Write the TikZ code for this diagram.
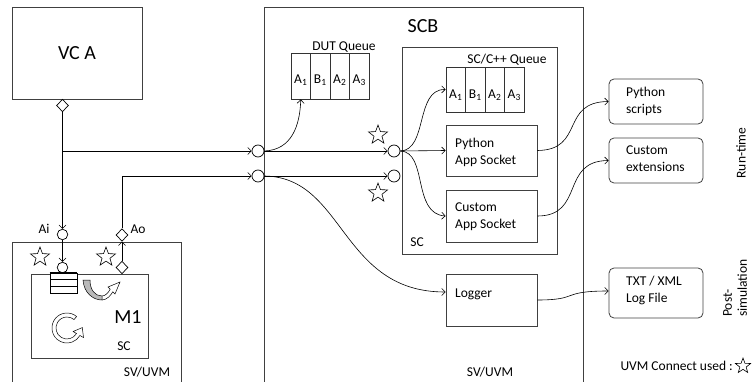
\documentclass[tikz,border=0pt]{standalone}
\usepackage{fontspec}
\setmainfont{Carlito}
\usetikzlibrary{arrows.meta,shapes.geometric}
\begin{document}
\begin{tikzpicture}[x=1pt,y=-1pt,
  box/.style={draw=black!75, line width=0.8pt, inner sep=0pt},
  rbox/.style={draw=black!75, line width=0.8pt, inner sep=0pt, rounded corners=5pt},
  txt/.style={font=\fontsize{13.5}{17}\selectfont, inner sep=0pt, align=left},
  big/.style={font=\fontsize{20}{24}\selectfont},
  port/.style={circle, draw, line width=0.7pt, minimum size=12pt, inner sep=0pt, fill=white},
  sport/.style={circle, draw, line width=0.7pt, minimum size=10.5pt, inner sep=0pt, fill=white},
  dport/.style={diamond, draw, line width=0.7pt, minimum width=12pt, minimum height=12.5pt, inner sep=0pt, fill=white},
  ustar/.style={star, star points=5, star point ratio=2.4, draw, line width=0.6pt, minimum size=20pt, inner sep=0pt},
  cell/.style={draw=black!80, line width=0.8pt, minimum width=19.5pt, inner sep=0pt, font=\fontsize{13.5}{16}\selectfont},
  arr/.style={-{Straight Barb[length=3.5pt,width=7pt]}, line width=0.6pt},
  ln/.style={line width=0.6pt}
]
\useasboundingbox (0,0) rectangle (752,382);
\clip (0,0) rectangle (752,382);

% ---------- VC A ----------
\node[box, big, minimum width=130pt, minimum height=92pt] (vca) at (77,53) {VC A};
\node[dport] (da) at (62.5,105.5) {};

% ---------- M1 side ----------
\node[box, minimum width=169pt, minimum height=160pt] (mout) at (96.5,322) {};
\node[txt] (msv) at (147,372) {SV/UVM};
\node[box, minimum width=117pt, minimum height=84pt] (m1) at (89.5,316) {};
\node[big, inner sep=0pt] (m1t) at (128,317) {M1};
\node[txt] (m1sc) at (124,346) {SC};

\node[sport] (ai) at (62.5,234.5) {};
\node[txt] (ait) at (44,229) {Ai};
\node[dport] (ao) at (122,235) {};
\node[txt] (aot) at (138,229) {Ao};
\node[sport] (ci) at (62.5,267.5) {};
\node[dport] (di) at (122,267.5) {};
\node[ustar] (s1) at (40,257) {};
\node[ustar] (s2) at (106,257) {};

% queue stack
\node[draw, line width=0.7pt, minimum width=27pt, minimum height=20pt, inner sep=0pt, fill=white] (qs) at (63.5,283) {};
\draw[line width=1.3pt] (qs.north west) -- (qs.north east);
\draw[line width=1.3pt] (50,279.7) -- (77,279.7);
\draw[line width=0.7pt] (50,286.3) -- (77,286.3);

% grey U arrow
\filldraw[fill=gray!55, draw=black, line width=0.5pt] (83,280) .. controls (84,293) and (93,300) .. (102,300) -- (102,296) .. controls (95,296) and (90,290) .. (90,280) -- cycle;
\draw[line width=0.5pt] (102,300) .. controls (107,300) and (111,295) .. (112.8,291.8) -- (115,294) -- (120,282) -- (108,287) -- (110.2,289.2) .. controls (108.5,292.5) and (105.5,296) .. (102,296);

% circular arrow
\draw[line width=0.5pt, fill=white] (76.6,316.5) arc[start angle=-50,end angle=-330,radius=15] -- (83.5,337.5) -- (82.3,327.6) -- (73.1,331.5) -- (76.5,333.5) arc[start angle=-330,end angle=-50,radius=11] -- cycle;

% ---------- SCB ----------
\node[box, minimum width=319pt, minimum height=400pt] (scb) at (423.5,207) {};
\node[big, inner sep=0pt] (scbt) at (423,26) {SCB};
\node[txt] (scbsv) at (490,372) {SV/UVM};

% DUT queue
\node[txt] (dql) at (344,47) {DUT Queue};
\node[cell, minimum height=46pt] (dq1) at (300.75,76) {};
\node[cell, minimum height=46pt] (dq2) at (320.25,76) {};
\node[cell, minimum height=46pt] (dq3) at (339.75,76) {};
\node[cell, minimum height=46pt] (dq4) at (359.25,76) {};
\node[txt] at (300.75,80) {A\textsubscript{1}};
\node[txt] at (320.25,80) {B\textsubscript{1}};
\node[txt] at (339.75,80) {A\textsubscript{2}};
\node[txt] at (359.25,80) {A\textsubscript{3}};

% SC box
\node[box, minimum width=155pt, minimum height=207pt] (scbox) at (479.5,150.5) {};
\node[txt] (sct) at (417,242) {SC};

% SC queue
\node[txt] (sql) at (507,60) {SC/C++ Queue};
\node[cell, minimum height=45pt] (sq1) at (455.75,89.5) {};
\node[cell, minimum height=45pt] (sq2) at (475.25,89.5) {};
\node[cell, minimum height=45pt] (sq3) at (494.75,89.5) {};
\node[cell, minimum height=45pt] (sq4) at (514.25,89.5) {};
\node[txt] at (455.75,95) {A\textsubscript{1}};
\node[txt] at (475.25,95) {B\textsubscript{1}};
\node[txt] at (494.75,95) {A\textsubscript{2}};
\node[txt] at (514.25,95) {A\textsubscript{3}};

% sockets and logger
\node[box, minimum width=91pt, minimum height=51pt] (pa) at (491.5,150.5) {};
\node[txt, anchor=west] (pat) at (455,152.5) {Python\\App Socket};
\node[box, minimum width=91pt, minimum height=52pt] (ca) at (491.5,216) {};
\node[txt, anchor=west] (cat) at (455,217) {Custom\\App Socket};
\node[box, minimum width=91pt, minimum height=52pt] (lg) at (491.5,300) {};
\node[txt, anchor=west] (lgt) at (455,294) {Logger};

% ports
\node[port] (c1) at (258,151) {};
\node[port] (c2) at (258,176) {};
\node[port] (c3) at (394,151) {};
\node[port] (c4) at (394,176) {};
\node[ustar] (s3) at (378,135) {};
\node[ustar] (s4) at (378,193) {};

% right side boxes
\node[rbox, minimum width=94pt, minimum height=45pt] (psc) at (656,101.5) {};
\node[txt, anchor=west] (psct) at (626,101) {Python\\scripts};
\node[rbox, minimum width=94pt, minimum height=45pt] (cex) at (656,160.5) {};
\node[txt, anchor=west] (cext) at (626,159) {Custom\\extensions};
\node[rbox, minimum width=94pt, minimum height=50pt] (tx) at (656,293) {};
\node[txt, anchor=west] (txt1) at (626,290) {TXT / XML\\Log File};

% phase labels
\node[txt, rotate=90, align=center] (rt) at (741,153) {Run-time};
\node[txt, rotate=90, align=left, font=\fontsize{13.5}{15}\selectfont] (ps) at (735,288) {Post-\\simulation};
\node[txt, anchor=east] (leg) at (733,366) {UVM Connect used :};
\node[ustar, minimum size=16pt] (s5) at (743,366) {};

% ---------- connectors ----------
\draw[arr] (da.south) -- (ai.north);
\draw[arr] (da.south |- c1) -- (c1.west);
\draw[arr] (ai.south) -- (ci.north);
\draw[arr] (di.north) -- (ao.south);
\draw[arr] (ao.north) |- (c2.west);

\draw[arr] (c1.east) .. controls (292,150) and (300,125) .. (dq1.south);
\draw[arr] (c1.east) -- (c3.west);
\draw[arr] (c2.east) -- (c4.west);
\draw[arr] (c2.east) .. controls (345,177) and (340,292) .. ([yshift=8pt]lg.west);

\draw[arr] (c3.east) .. controls (428,150) and (415,89) .. (sq1.west);
\draw[arr] (c3.east) -- (pa.west);
\draw[arr] (c3.east) .. controls (428,152) and (412,214) .. (ca.west);

\draw[arr] (pa.east) .. controls (585,150) and (560,102) .. (psc.west);
\draw[arr] (ca.east) .. controls (585,216) and (560,161) .. (cex.west);
\draw[arr] (lg.east) .. controls (580,300) and (560,291) .. ([yshift=2pt]tx.west);
\end{tikzpicture}
\end{document}
